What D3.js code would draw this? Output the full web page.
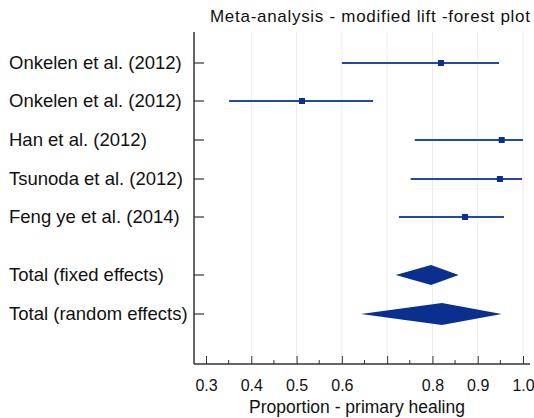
<!DOCTYPE html><html><head><script src="https://cdn.jsdelivr.net/npm/d3@7"></script>
<style>body{margin:0;background:#fff}text{font-family:"Helvetica","Liberation Sans",Arial,sans-serif;fill:#111}</style></head><body><script>
const studies=["Onkelen et al. (2012)","Onkelen et al. (2012)","Han et al. (2012)","Tsunoda et al. (2012)","Feng ye et al. (2014)"];
const est=[0.819,0.512,0.953,0.949,0.872];
const lo=[0.600,0.351,0.761,0.752,0.726];
const hi=[0.947,0.669,1.0,0.998,0.958];
const totals=["Total (fixed effects)","Total (random effects)"];
const totEst=[0.797,0.821],totLo=[0.719,0.642],totHi=[0.858,0.953];
const ticks=[0.3,0.4,0.5,0.6,0.7,0.8,0.9,1.0];
const tickLabels=["0.3","0.4","0.5","0.6","","0.8","0.9","1.0"];
(function(){
const W=534,H=418;
const svg=d3.select("body").append("svg").attr("width",W).attr("height",H);
const x=d3.scaleLinear().domain([0.3,1.0]).range([206,523]);
const yr=i=>i<5?[63,101,140,179,217][i]:[275,314][i-5];
const yTop=32,bottom=364,left=194;
svg.selectAll(".g").data(ticks.slice(1)).join("line").attr("x1",d=>x(d)).attr("x2",d=>x(d)).attr("y1",yTop).attr("y2",bottom).attr("stroke","#ececec");
svg.append("text").attr("x",370).attr("y",22).attr("text-anchor","middle").attr("font-size",17).attr("textLength",320).text("Meta-analysis - modified lift -forest plot");
svg.append("line").attr("x1",left).attr("x2",left).attr("y1",yTop).attr("y2",bottom).attr("stroke","#333").attr("stroke-width",1.5);
const all=[...studies,...totals];
all.forEach((s,i)=>{svg.append("line").attr("x1",left).attr("x2",left+10).attr("y1",yr(i)).attr("y2",yr(i)).attr("stroke","#333").attr("stroke-width",1.2);
svg.append("text").attr("x",9).attr("y",yr(i)+6).attr("font-size",18.5).text(s);});
const ax=svg.append("g").attr("transform",`translate(0,${bottom})`).call(d3.axisBottom(x).tickValues(ticks).tickFormat((d,i)=>tickLabels[i]).tickSize(-8).tickPadding(16));
ax.select(".domain").remove();
ax.selectAll("line").attr("stroke","#333");
ax.selectAll("text").attr("font-size",16).attr("fill","#111");
ax.append("g").selectAll("line").data(d3.range(0.35,1.0,0.1)).join("line").attr("x1",d=>x(d)).attr("x2",d=>x(d)).attr("y1",0).attr("y2",-4).attr("stroke","#333");
svg.append("line").attr("x1",left).attr("x2",530).attr("y1",bottom).attr("y2",bottom).attr("stroke","#333").attr("stroke-width",1.5);
svg.append("text").attr("x",357).attr("y",413).attr("text-anchor","middle").attr("font-size",17.5).text("Proportion - primary healing");
studies.forEach((s,i)=>{
svg.append("line").attr("x1",x(lo[i])).attr("x2",x(hi[i])).attr("y1",yr(i)).attr("y2",yr(i)).attr("stroke","#1f4aa6").attr("stroke-width",1.8);
svg.append("rect").attr("x",x(est[i])-3).attr("y",yr(i)-3).attr("width",6).attr("height",6).attr("fill","#0b2f8f");});
totals.forEach((s,i)=>{const yy=yr(5+i),h=i?11:10;
svg.append("path").attr("d",`M${x(totLo[i])},${yy}L${x(totEst[i])},${yy-h}L${x(totHi[i])},${yy}L${x(totEst[i])},${yy+h}Z`).attr("fill","#0b2f8f");});
})();
</script></body></html>
